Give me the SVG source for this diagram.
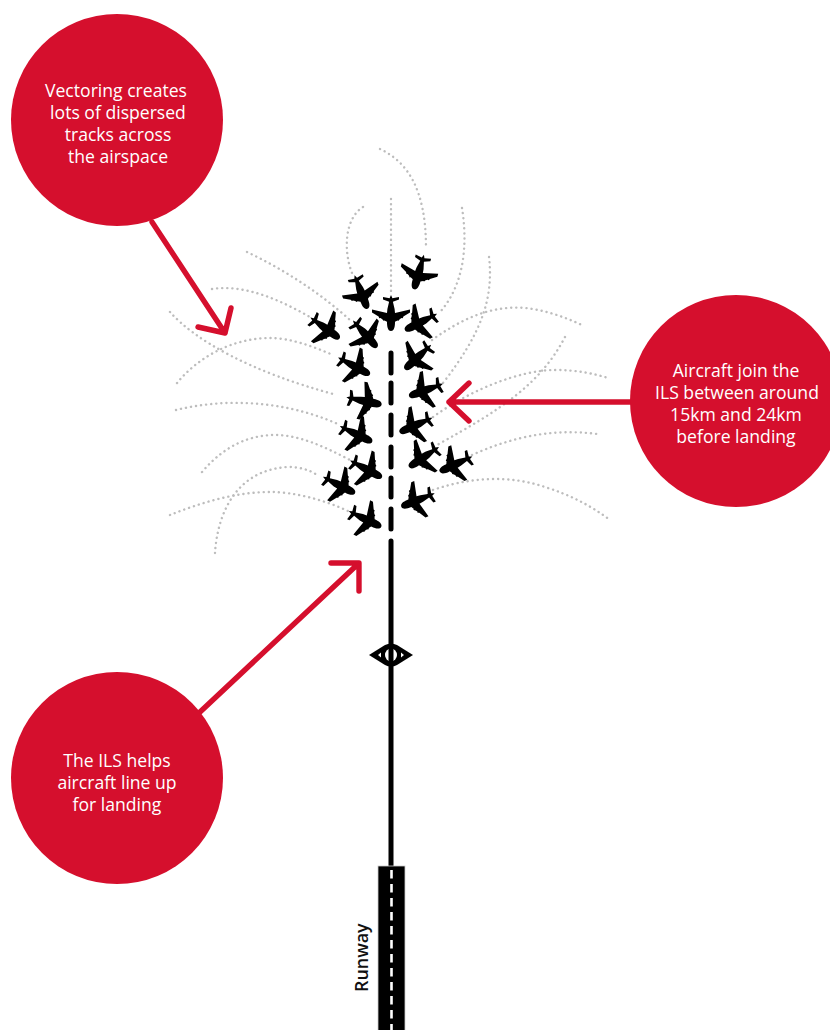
<svg xmlns="http://www.w3.org/2000/svg" width="830" height="1030" viewBox="0 0 830 1030">
<style>
.track{fill:none;stroke:#bdbdbd;stroke-width:2.4;stroke-linecap:round;stroke-dasharray:0.1 5}
.red{fill:none;stroke:#d50f2d;stroke-width:5.4;stroke-linecap:round;stroke-linejoin:round}
.bub{fill:#d50f2d}
.lab{fill:#fff;font-family:"Open Sans","Noto Sans",sans-serif;font-size:17.6px;font-weight:500;text-anchor:middle}
.ils{fill:none;stroke:#000;stroke-width:5;stroke-linecap:round}
</style>
<defs>
<path id="plane" d="M0,18C3.4,18 4,13 4,9.5L4,8.8 6.5,7.4 7.5,7.8 8.7,6.2 10.5,5 11.7,5.2 12.4,3.6 19,-0.4 19,-3.6 4,0 3.6,-4 1.9,-11.2 8,-13.4 8,-16 1.4,-14.8 0,-18 -1.4,-14.8 -8,-16 -8,-13.4 -1.9,-11.2 -3.6,-4 -4,0 -19,-3.6 -19,-0.4 -12.4,3.6 -11.7,5.2 -10.5,5 -8.7,6.2 -7.5,7.8 -6.5,7.4 -4,8.8 -4,9.5C-4,13 -3.4,18 0,18Z" fill="#000"/>
</defs>
<g id="tracks">
<path class="track" d="M380,149C408,162 426,190 426,248"/>
<path class="track" d="M391,199V291"/>
<path class="track" d="M363,207C345,218 343,250 352,273"/>
<path class="track" d="M462,208C468,245 464,285 440,312"/>
<path class="track" d="M489,257C494,300 480,335 443,383"/>
<path class="track" d="M432,340C460,320 490,305 525,308C545,310 565,317 584,326"/>
<path class="track" d="M565,337C540,385 500,410 437,445"/>
<path class="track" d="M433,417C470,390 520,370 555,370C575,370 592,373 608,378"/>
<path class="track" d="M472,455C510,438 550,428 597,434"/>
<path class="track" d="M433,490C470,477 510,475 545,487C570,495 590,505 610,520"/>
<path class="track" d="M247,252C285,270 320,293 350,320"/>
<path class="track" d="M212,289C245,284 280,300 310,317"/>
<path class="track" d="M170,312C195,340 250,372 337,395"/>
<path class="track" d="M177,383C200,355 235,338 270,338C290,338 312,346 333,355"/>
<path class="track" d="M176,410C225,398 285,400 340,425"/>
<path class="track" d="M202,472C225,445 250,435 275,435C300,435 325,447 352,461"/>
<path class="track" d="M215,553C217,520 232,470 288,467C300,467 310,470 317,475"/>
<path class="track" d="M170,515C200,503 235,492 270,492C295,492 325,500 350,512"/>
</g>
<g id="ils">
<path class="ils" d="M391,353V373M391,383V403M391,415V435M391,447V467M391,478V497M391,509V529M391,541V866"/>
</g>
<g id="marker">
<path d="M369,655L385,645Q391,642 397,645L413,655L397,665Q391,668 385,665Z" fill="#000"/>
<ellipse cx="391" cy="655" rx="6" ry="6.5" fill="#fff"/>
<path d="M391,646V664" stroke="#000" stroke-width="5"/>
<path d="M378,655L381,652.5V657.5ZM404,655L401,652.5V657.5Z" fill="#fff"/>
</g>
<g id="runway">
<rect x="378" y="866" width="27" height="166" fill="#000" stroke="#ccc" stroke-width="0.8"/>
<path d="M391.5,870V1030" stroke="#fff" stroke-width="2.6" stroke-dasharray="8.5 5.5"/>
<text transform="translate(368,992) rotate(-90)" font-family="'Open Sans','Noto Sans',sans-serif" font-size="17.9" font-weight="600" fill="#111">Runway</text>
</g>
<g id="planes">
<use href="#plane" transform="translate(361,292) rotate(-21)"/>
<use href="#plane" transform="translate(325,328) rotate(-54)"/>
<use href="#plane" transform="translate(365,334) rotate(-42)"/>
<use href="#plane" transform="translate(354,366) rotate(-62)"/>
<use href="#plane" transform="translate(364,401) rotate(-78)"/>
<use href="#plane" transform="translate(356,434) rotate(-64)"/>
<use href="#plane" transform="translate(366,469) rotate(-62)"/>
<use href="#plane" transform="translate(339,485) rotate(-63)"/>
<use href="#plane" transform="translate(365,519) rotate(-64)"/>
<use href="#plane" transform="translate(419,272) rotate(16)"/>
<use href="#plane" transform="translate(391,313)"/>
<use href="#plane" transform="translate(421,322) rotate(63)"/>
<use href="#plane" transform="translate(418,357) rotate(47)"/>
<use href="#plane" transform="translate(426,390) rotate(70)"/>
<use href="#plane" transform="translate(416,425) rotate(66)"/>
<use href="#plane" transform="translate(424,457) rotate(56)"/>
<use href="#plane" transform="translate(456,464) rotate(65)"/>
<use href="#plane" transform="translate(418,500) rotate(68)"/>
</g>
<g id="connectors">
<path class="red" d="M152,222L225,333M198,327L225,333L231,308"/>
<path class="red" d="M632,402H449M469,383L449,402L469,421"/>
<path class="red" d="M200,712L358,564M331,563H359V591"/>
</g>
<g id="note-vectoring">
<circle class="bub" cx="117" cy="120" r="106"/>
<text class="lab"><tspan x="116" y="97">Vectoring creates</tspan><tspan x="118" y="119">lots of dispersed</tspan><tspan x="118" y="141">tracks across</tspan><tspan x="118" y="163">the airspace</tspan></text>
</g>
<g id="note-join">
<circle class="bub" cx="736" cy="401" r="106"/>
<text class="lab"><tspan x="736" y="377">Aircraft join the</tspan><tspan x="737" y="399">ILS between around</tspan><tspan x="736" y="421">15km and 24km</tspan><tspan x="736" y="443">before landing</tspan></text>
</g>
<g id="note-ils">
<circle class="bub" cx="117" cy="778" r="106"/>
<text class="lab"><tspan x="117" y="767">The ILS helps</tspan><tspan x="117" y="789">aircraft line up</tspan><tspan x="117" y="811">for landing</tspan></text>
</g>
</svg>
